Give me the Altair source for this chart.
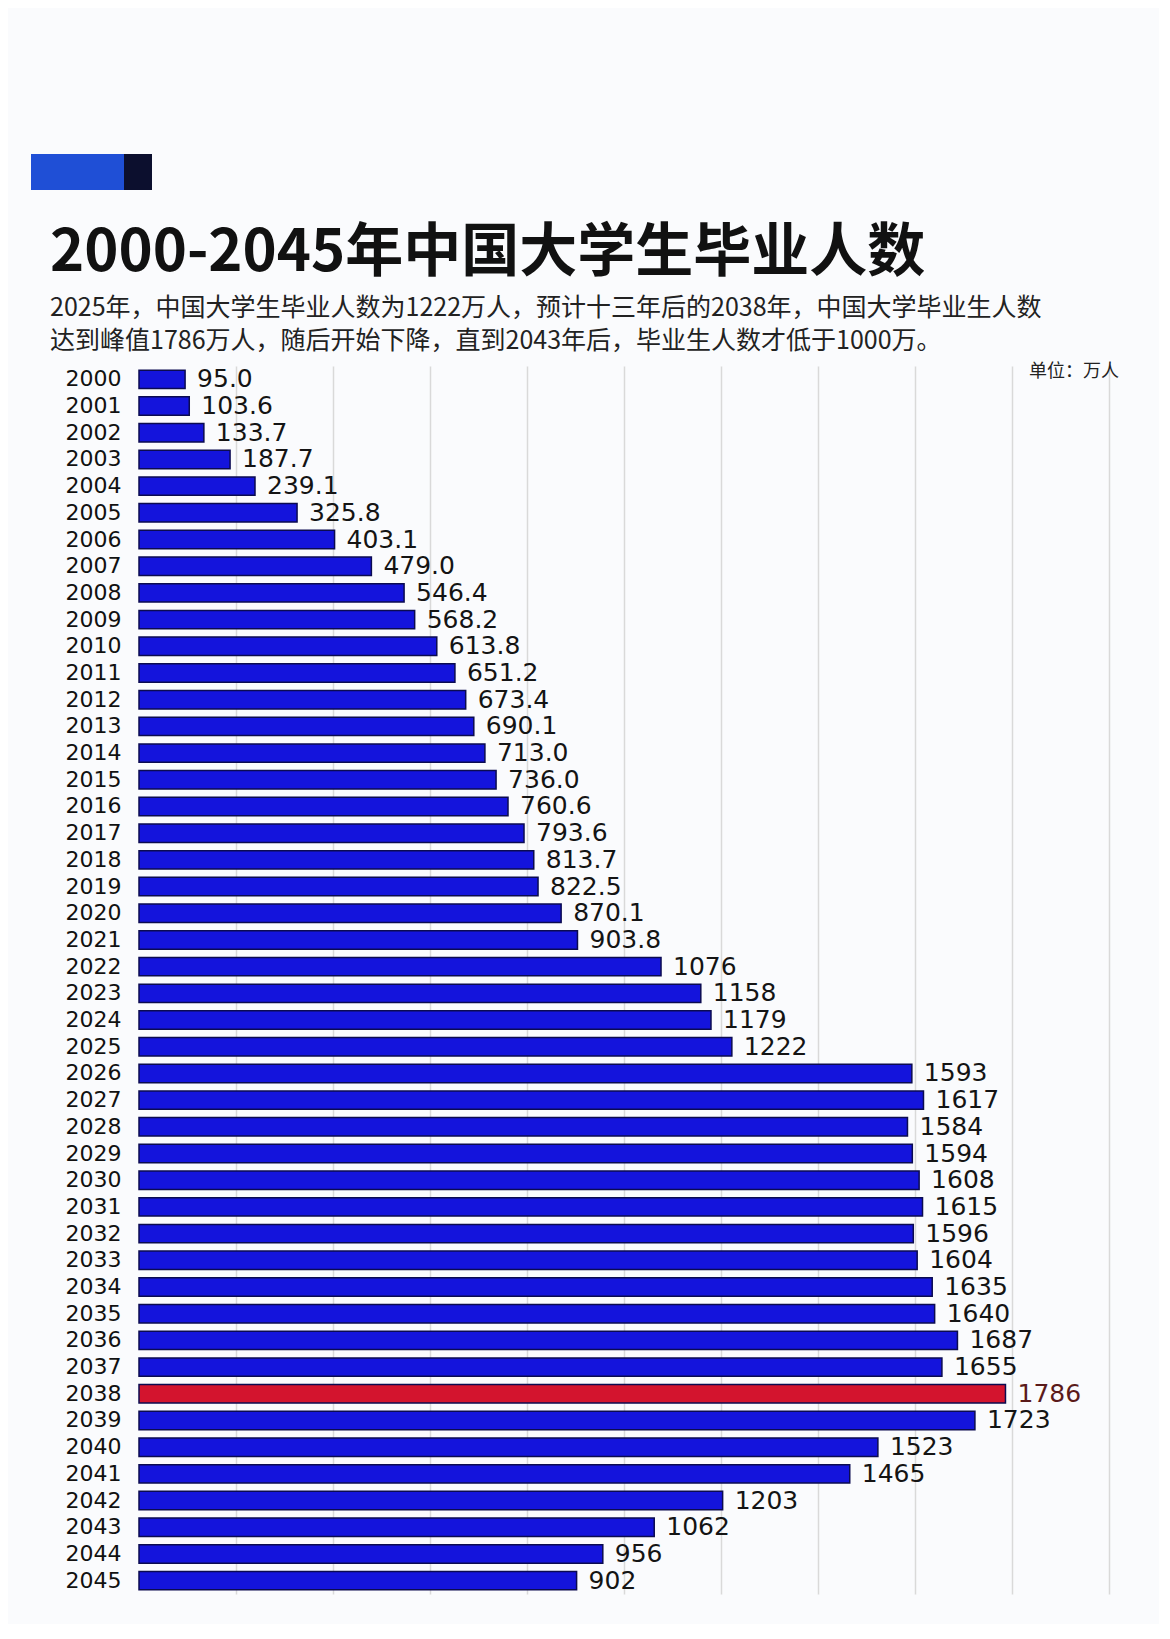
import altair as alt
import pandas as pd

years = [str(y) for y in range(2000, 2046)]
values = [95.0, 103.6, 133.7, 187.7, 239.1, 325.8, 403.1, 479.0, 546.4, 568.2,
          613.8, 651.2, 673.4, 690.1, 713.0, 736.0, 760.6, 793.6, 813.7, 822.5,
          870.1, 903.8, 1076, 1158, 1179, 1222, 1593, 1617, 1584, 1594,
          1608, 1615, 1596, 1604, 1635, 1640, 1687, 1655, 1786, 1723,
          1523, 1465, 1203, 1062, 956, 902]
peak_year = "2038"
title_text = "2000-2045年中国大学生毕业人数"
subtitle_line1 = "2025年，中国大学生毕业人数为1222万人，预计十三年后的2038年，中国大学毕业生人数"
subtitle_line2 = "达到峰值1786万人，随后开始下降，直到2043年后，毕业生人数才低于1000万。"
unit_text = "单位：万人"
grid_values = list(range(200, 2001, 200))

labels = [f"{v:.1f}" if int(y) <= 2021 else f"{int(v)}" for y, v in zip(years, values)]
df = pd.DataFrame({"year": years, "value": values, "label": labels})

W, H = 980, 1228
x_scale = alt.Scale(domain=[0, 2020], nice=False)
y_scale = alt.Scale(domain=years, paddingInner=0.31, paddingOuter=0.155)

is_peak = alt.datum.year == peak_year

base = alt.Chart(df).encode(
    y=alt.Y("year:N", scale=y_scale, sort=years,
            axis=alt.Axis(title=None, ticks=False, domain=False, grid=False,
                          labelFont="DejaVu Sans", labelFontSize=22,
                          labelColor="#111111", labelPadding=18)),
    x=alt.X("value:Q", scale=x_scale,
            axis=alt.Axis(title=None, labels=False, ticks=False, domain=False,
                          grid=True, values=grid_values, gridColor="#d9d9d9",
                          gridWidth=1.5)),
)

bars = base.mark_bar(stroke="#0b0b50", strokeWidth=1.5).encode(
    color=alt.condition(is_peak, alt.value("#d3142e"), alt.value("#1414dc"))
)

value_labels = base.mark_text(align="left", baseline="middle", dx=12,
                              font="DejaVu Sans", fontSize=25).encode(
    text="label:N",
    color=alt.condition(is_peak, alt.value("#5a1a1a"), alt.value("#141414")),
)

def one(txt):
    return pd.DataFrame({"t": [txt]})

title = alt.Chart(one(title_text)).mark_text(
    align="left", baseline="middle", font="Noto Sans CJK SC", fontWeight="bold",
    fontSize=58, color="#111111").encode(text="t:N", x=alt.value(-89), y=alt.value(-112))

sub1 = alt.Chart(one(subtitle_line1)).mark_text(
    align="left", baseline="middle", font="Noto Sans CJK SC",
    fontSize=25, color="#222222").encode(text="t:N", x=alt.value(-89), y=alt.value(-58))

sub2 = alt.Chart(one(subtitle_line2)).mark_text(
    align="left", baseline="middle", font="Noto Sans CJK SC",
    fontSize=25, color="#222222").encode(text="t:N", x=alt.value(-89), y=alt.value(-25))

unit = alt.Chart(one(unit_text)).mark_text(
    align="right", baseline="middle", font="Noto Sans CJK SC",
    fontSize=18, color="#222222").encode(text="t:N", x=alt.value(W), y=alt.value(6))

deco_blue = alt.Chart(one("a")).mark_rect(color="#1f4fd6").encode(
    x=alt.value(-108), x2=alt.value(-15), y=alt.value(-212), y2=alt.value(-176))
deco_dark = alt.Chart(one("b")).mark_rect(color="#0c0f2e").encode(
    x=alt.value(-15), x2=alt.value(13), y=alt.value(-212), y2=alt.value(-176))

chart = alt.layer(bars, value_labels, title, sub1, sub2, unit, deco_blue, deco_dark).properties(
    width=W, height=H,
    autosize=alt.AutoSizeParams(type="none"),
    padding={"left": 131, "top": 358, "right": 40, "bottom": 30},
    background="#fafbfd",
).configure_view(stroke=None)

chart.save("out.html", embed_options={"renderer": "svg", "actions": False})
